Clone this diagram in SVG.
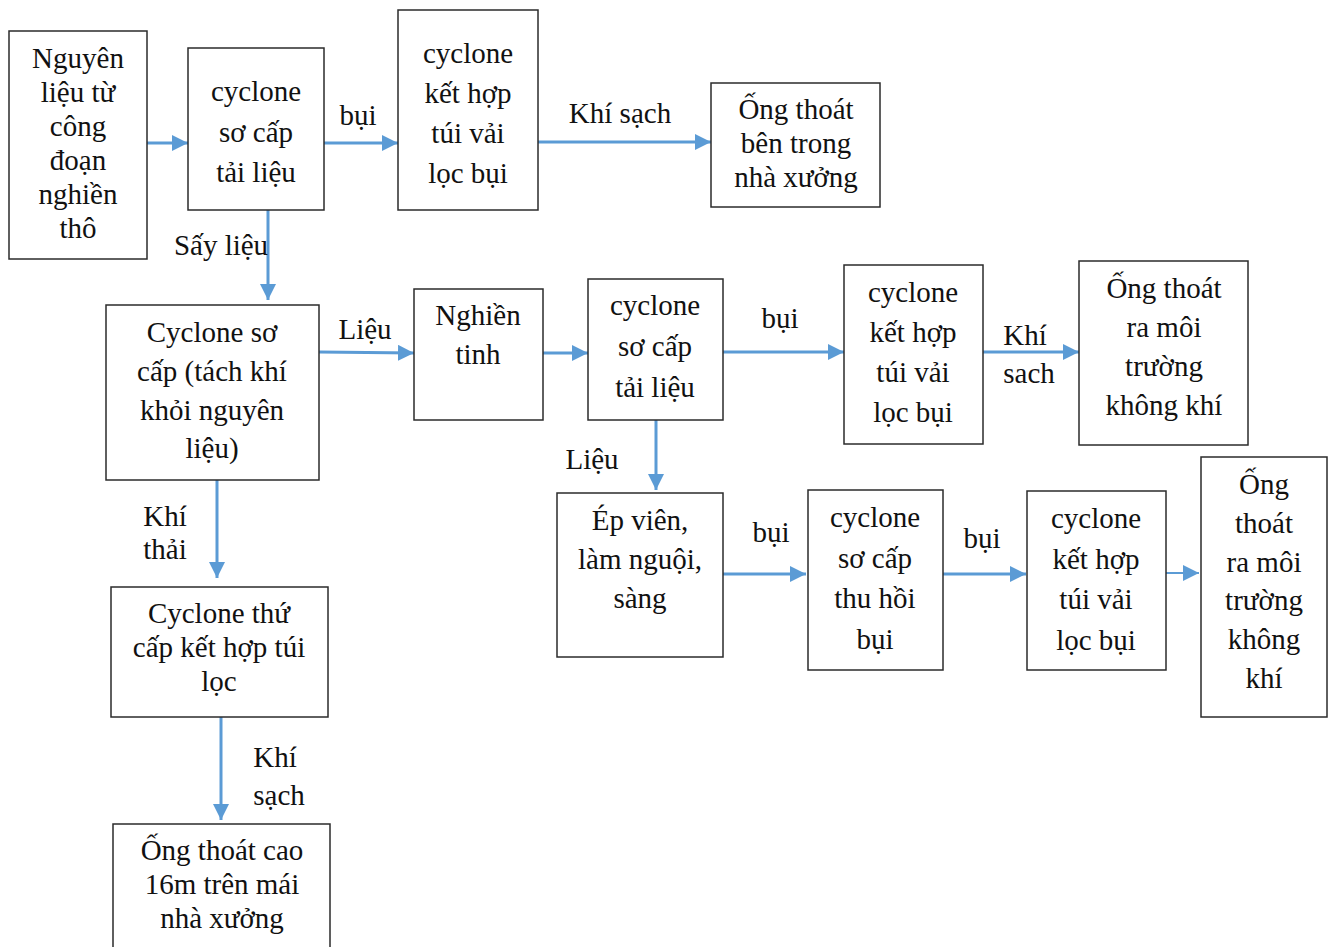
<svg xmlns="http://www.w3.org/2000/svg" width="1332" height="947" viewBox="0 0 1332 947">
<style>
.box{fill:#fff;stroke:#2b2b2b;stroke-width:1.5}
text{font-family:"Liberation Serif","Times New Roman",serif;font-size:29px;fill:#111;text-anchor:middle}
.c{stroke:#5b9bd5;stroke-width:3;fill:none}
.t{stroke-width:2.2}
</style>
<defs>
<marker id="ah" viewBox="0 0 16 16" refX="16" refY="8" markerWidth="16" markerHeight="16" markerUnits="userSpaceOnUse" orient="auto">
<path d="M0,0 L16,8 L0,16 Z" fill="#5b9bd5"/>
</marker>
</defs>
<rect width="1332" height="947" fill="#fff"/>
<g id="connectors">
<line class="c" x1="147" y1="143" x2="188" y2="143" marker-end="url(#ah)"/>
<line class="c" x1="324" y1="143" x2="398" y2="143" marker-end="url(#ah)"/>
<line class="c" x1="538" y1="142" x2="711" y2="142" marker-end="url(#ah)"/>
<line class="c" x1="268" y1="210" x2="268" y2="300" marker-end="url(#ah)"/>
<line class="c" x1="319" y1="352" x2="414" y2="353" marker-end="url(#ah)"/>
<line class="c" x1="543" y1="353" x2="588" y2="353" marker-end="url(#ah)"/>
<line class="c" x1="723" y1="352" x2="844" y2="352" marker-end="url(#ah)"/>
<line class="c" x1="983" y1="352" x2="1079" y2="352" marker-end="url(#ah)"/>
<line class="c" x1="656" y1="420" x2="656" y2="490" marker-end="url(#ah)"/>
<line class="c" x1="217" y1="480" x2="217" y2="578" marker-end="url(#ah)"/>
<line class="c" x1="723" y1="574" x2="806" y2="574" marker-end="url(#ah)"/>
<line class="c" x1="943" y1="574" x2="1026" y2="574" marker-end="url(#ah)"/>
<line class="c t" x1="1166" y1="573" x2="1199" y2="573" marker-end="url(#ah)"/>
<line class="c" x1="221" y1="717" x2="221" y2="820" marker-end="url(#ah)"/>
<text x="358" y="125">bụi</text>
<text x="620" y="123">Khí sạch</text>
<text x="221" y="255">Sấy liệu</text>
<text x="365" y="339">Liệu</text>
<text x="780" y="328">bụi</text>
<text x="1025" y="345">Khí</text>
<text x="1029" y="383">sach</text>
<text x="592" y="469">Liệu</text>
<text x="165" y="526">Khí</text>
<text x="165" y="559">thải</text>
<text x="771" y="542">bụi</text>
<text x="982" y="548">bụi</text>
<text x="275" y="767">Khí</text>
<text x="279" y="805">sạch</text>
</g>
<g id="n1"><rect class="box" x="9" y="31" width="138" height="228"/>
<text x="78" y="68">Nguyên</text><text x="78" y="102">liệu từ</text><text x="78" y="136">công</text><text x="78" y="170">đoạn</text><text x="78" y="204">nghiền</text><text x="78" y="238">thô</text></g>
<g id="n2"><rect class="box" x="188" y="48" width="136" height="162"/>
<text x="256" y="101">cyclone</text><text x="256" y="142">sơ cấp</text><text x="256" y="182">tải liệu</text></g>
<g id="n3"><rect class="box" x="398" y="10" width="140" height="200"/>
<text x="468" y="63">cyclone</text><text x="468" y="103">kết hợp</text><text x="468" y="143">túi vải</text><text x="468" y="183">lọc bụi</text></g>
<g id="n4"><rect class="box" x="711" y="83" width="169" height="124"/>
<text x="796" y="119">Ống thoát</text><text x="796" y="153">bên trong</text><text x="796" y="187">nhà xưởng</text></g>
<g id="n5"><rect class="box" x="106" y="305" width="213" height="175"/>
<text x="212" y="342">Cyclone sơ</text><text x="212" y="381">cấp (tách khí</text><text x="212" y="420">khỏi nguyên</text><text x="212" y="458">liệu)</text></g>
<g id="n6"><rect class="box" x="414" y="289" width="129" height="131"/>
<text x="478" y="325">Nghiền</text><text x="478" y="364">tinh</text></g>
<g id="n7"><rect class="box" x="588" y="279" width="135" height="141"/>
<text x="655" y="315">cyclone</text><text x="655" y="356">sơ cấp</text><text x="655" y="397">tải liệu</text></g>
<g id="n8"><rect class="box" x="844" y="265" width="139" height="179"/>
<text x="913" y="302">cyclone</text><text x="913" y="342">kết hợp</text><text x="913" y="382">túi vải</text><text x="913" y="422">lọc bụi</text></g>
<g id="n9"><rect class="box" x="1079" y="261" width="169" height="184"/>
<text x="1164" y="298">Ống thoát</text><text x="1164" y="337">ra môi</text><text x="1164" y="376">trường</text><text x="1164" y="415">không khí</text></g>
<g id="n10"><rect class="box" x="557" y="493" width="166" height="164"/>
<text x="640" y="530">Ép viên,</text><text x="640" y="569">làm nguội,</text><text x="640" y="608">sàng</text></g>
<g id="n11"><rect class="box" x="808" y="490" width="135" height="180"/>
<text x="875" y="527">cyclone</text><text x="875" y="568">sơ cấp</text><text x="875" y="608">thu hồi</text><text x="875" y="649">bụi</text></g>
<g id="n12"><rect class="box" x="1027" y="491" width="139" height="179"/>
<text x="1096" y="528">cyclone</text><text x="1096" y="569">kết hợp</text><text x="1096" y="609">túi vải</text><text x="1096" y="650">lọc bụi</text></g>
<g id="n13"><rect class="box" x="1201" y="457" width="126" height="260"/>
<text x="1264" y="494">Ống</text><text x="1264" y="533">thoát</text><text x="1264" y="572">ra môi</text><text x="1264" y="610">trường</text><text x="1264" y="649">không</text><text x="1264" y="688">khí</text></g>
<g id="n14"><rect class="box" x="111" y="587" width="217" height="130"/>
<text x="219" y="623">Cyclone thứ</text><text x="219" y="657">cấp kết hợp túi</text><text x="219" y="691">lọc</text></g>
<g id="n15"><rect class="box" x="113" y="824" width="217" height="140"/>
<text x="222" y="860">Ống thoát cao</text><text x="222" y="894">16m trên mái</text><text x="222" y="928">nhà xưởng</text></g>
</svg>
